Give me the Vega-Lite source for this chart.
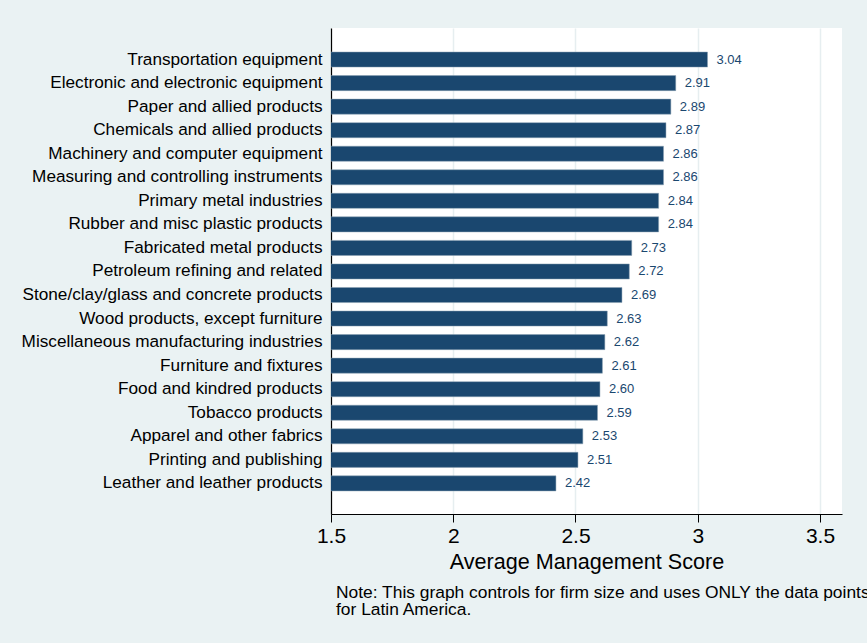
{
  "$schema": "https://vega.github.io/schema/vega-lite/v6.json",
  "autosize": {"type": "none"},
  "width": 511,
  "height": 486,
  "padding": {"left": 331, "top": 28, "right": 25, "bottom": 129},
  "background": "#EAF2F3",
  "config": {
    "font": "Liberation Sans",
    "view": {"fill": "white", "stroke": null},
    "axis": {"labelFont": "Liberation Sans", "titleFont": "Liberation Sans"}
  },
  "title": {
    "text": ["Note: This graph controls for firm size and uses ONLY the data points", "for Latin America."],
    "orient": "bottom",
    "anchor": "start",
    "frame": "group",
    "align": "left",
    "fontSize": 17.4,
    "fontWeight": "normal",
    "lineHeight": 17,
    "color": "black",
    "offset": 11,
    "dx": 5,
    "font": "Liberation Sans"
  },
  "data": {
    "values": [
      {"industry": "Transportation equipment", "score": 3.04},
      {"industry": "Electronic and electronic equipment", "score": 2.91},
      {"industry": "Paper and allied products", "score": 2.89},
      {"industry": "Chemicals and allied products", "score": 2.87},
      {"industry": "Machinery and computer equipment", "score": 2.86},
      {"industry": "Measuring and controlling instruments", "score": 2.86},
      {"industry": "Primary metal industries", "score": 2.84},
      {"industry": "Rubber and misc plastic products", "score": 2.84},
      {"industry": "Fabricated metal products", "score": 2.73},
      {"industry": "Petroleum refining and related", "score": 2.72},
      {"industry": "Stone/clay/glass and concrete products", "score": 2.69},
      {"industry": "Wood products, except furniture", "score": 2.63},
      {"industry": "Miscellaneous manufacturing industries", "score": 2.62},
      {"industry": "Furniture and fixtures", "score": 2.61},
      {"industry": "Food and kindred products", "score": 2.6},
      {"industry": "Tobacco products", "score": 2.59},
      {"industry": "Apparel and other fabrics", "score": 2.53},
      {"industry": "Printing and publishing", "score": 2.51},
      {"industry": "Leather and leather products", "score": 2.42}
    ]
  },
  "encoding": {
    "y": {
      "field": "industry",
      "type": "nominal",
      "sort": null,
      "scale": {"paddingInner": 0.36, "paddingOuter": 1.045, "align": 0.51},
      "axis": {
        "title": null,
        "ticks": false,
        "labelPadding": 9,
        "labelFontSize": 17.2,
        "labelColor": "black",
        "labelLimit": 400,
        "domainColor": "black",
        "domainWidth": 1.2,
        "grid": false
      }
    },
    "x": {
      "field": "score",
      "type": "quantitative",
      "scale": {"domain": [1.5, 3.59], "zero": false, "nice": false},
      "axis": {
        "title": "Average Management Score",
        "values": [1.5, 2, 2.5, 3, 3.5],
        "format": "~g",
        "titleFontSize": 21.6,
        "titleFontWeight": "normal",
        "titleColor": "black",
        "titlePadding": 5,
        "labelFontSize": 21,
        "labelColor": "black",
        "labelPadding": 3,
        "tickSize": 8,
        "tickColor": "black",
        "domainColor": "black",
        "domainWidth": 1.2,
        "grid": true,
        "gridColor": "#E6EEF0",
        "gridWidth": 1.5,
        "labelFlush": false
      }
    }
  },
  "layer": [
    {
      "mark": {"type": "bar", "clip": true, "color": "#1a476f", "stroke": "#8aa0b3", "strokeWidth": 0.5}
    },
    {
      "mark": {"type": "text", "align": "left", "baseline": "middle", "dx": 9, "fontSize": 13, "color": "#1a476f"},
      "encoding": {"text": {"field": "score", "type": "quantitative", "format": ".2f"}}
    }
  ]
}
